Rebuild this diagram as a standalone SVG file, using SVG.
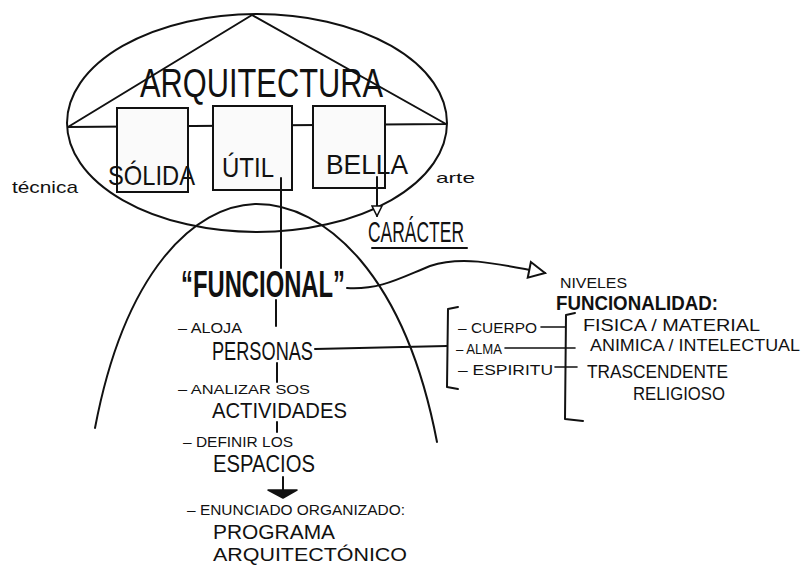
<svg xmlns="http://www.w3.org/2000/svg" width="808" height="566" viewBox="0 0 808 566">
<defs>
<style>
.ln{fill:none;stroke:#111;stroke-width:2;stroke-linecap:round;stroke-linejoin:round}
.th{fill:none;stroke:#111;stroke-width:1.6;stroke-linecap:round}
.t{font-family:"Liberation Sans","DejaVu Sans",sans-serif;fill:#111}
.b{font-weight:bold}
.box{fill:#fafafa;stroke:#111;stroke-width:2}
</style>
<marker id="open" viewBox="0 0 12 12" refX="11" refY="6" markerWidth="12" markerHeight="12" markerUnits="userSpaceOnUse" orient="auto">
<path d="M1,1 L11,6 L1,11 Z" fill="#fff" stroke="#111" stroke-width="1.6"/>
</marker>
<marker id="open2" viewBox="0 0 20 20" refX="18" refY="10" markerWidth="20" markerHeight="20" markerUnits="userSpaceOnUse" orient="auto">
<path d="M2,2 L18,10 L2,18 Z" fill="#fff" stroke="#111" stroke-width="2"/>
</marker>
</defs>
<rect width="808" height="566" fill="#fff"/>

<g id="arquitectura">
<ellipse cx="257" cy="123" rx="190" ry="109" class="ln"/>
<path d="M68,127 L252,15 L446,124 Z" class="ln"/>
<text class="t" x="140" y="97" font-size="40" textLength="243" lengthAdjust="spacingAndGlyphs">ARQUITECTURA</text>
</g>

<g id="solida">
<rect x="117" y="108" width="71" height="84" class="box"/>
<text class="t" x="108" y="185" font-size="28" textLength="87" lengthAdjust="spacingAndGlyphs">SÓLIDA</text>
</g>
<g id="util">
<rect x="213" y="106" width="79" height="84" class="box"/>
<text class="t" x="222" y="177" font-size="27" textLength="52" lengthAdjust="spacingAndGlyphs">ÚTIL</text>
</g>
<g id="bella">
<rect x="313" y="106" width="72" height="82" class="box"/>
<text class="t" x="326" y="174" font-size="28" textLength="82" lengthAdjust="spacingAndGlyphs">BELLA</text>
</g>
<g id="tecnica"><text class="t" x="12" y="193" font-size="17" textLength="66" lengthAdjust="spacingAndGlyphs">técnica</text></g>
<g id="arte"><text class="t" x="436" y="183" font-size="15" textLength="39" lengthAdjust="spacingAndGlyphs">arte</text></g>

<g id="caracter">
<text class="t" x="368" y="242" font-size="29" textLength="96" lengthAdjust="spacingAndGlyphs">CARÁCTER</text>
<line x1="372" y1="248" x2="467" y2="248" class="ln"/>
</g>

<g id="arco">
<path d="M95,428 C125,270 195,206 255,204 C325,203 405,275 437,442" class="ln"/>
</g>

<g id="funcional">
<text class="t b" x="181" y="297" font-size="36" textLength="164" lengthAdjust="spacingAndGlyphs">“FUNCIONAL”</text>
</g>

<g id="personas">
<text class="t" x="178" y="333" font-size="14" textLength="64" lengthAdjust="spacingAndGlyphs">– ALOJA</text>
<text class="t" x="212" y="360" font-size="25" textLength="101" lengthAdjust="spacingAndGlyphs">PERSONAS</text>
</g>
<g id="actividades">
<text class="t" x="178" y="394" font-size="12" textLength="132" lengthAdjust="spacingAndGlyphs">– ANALIZAR SOS</text>
<text class="t" x="212" y="418" font-size="22" textLength="135" lengthAdjust="spacingAndGlyphs">ACTIVIDADES</text>
</g>
<g id="espacios">
<text class="t" x="183" y="447" font-size="14" textLength="110" lengthAdjust="spacingAndGlyphs">– DEFINIR LOS</text>
<text class="t" x="213" y="472" font-size="23" textLength="102" lengthAdjust="spacingAndGlyphs">ESPACIOS</text>
</g>
<g id="programa">
<text class="t" x="187" y="515" font-size="15" textLength="218" lengthAdjust="spacingAndGlyphs">– ENUNCIADO ORGANIZADO:</text>
<text class="t" x="213" y="539" font-size="20" textLength="122" lengthAdjust="spacingAndGlyphs">PROGRAMA</text>
<text class="t" x="213" y="561" font-size="19" textLength="194" lengthAdjust="spacingAndGlyphs">ARQUITECTÓNICO</text>
</g>

<g id="niveles">
<text class="t" x="560" y="288" font-size="14" textLength="67" lengthAdjust="spacingAndGlyphs">NIVELES</text>
<text class="t b" x="556" y="310" font-size="20" textLength="162" lengthAdjust="spacingAndGlyphs">FUNCIONALIDAD:</text>
</g>

<g id="partes">
<path d="M458,307 L448,309 L447,387 L458,389" class="ln"/>
<text class="t" x="458" y="333" font-size="15" textLength="79" lengthAdjust="spacingAndGlyphs">– CUERPO</text>
<text class="t" x="456" y="354" font-size="15" textLength="46" lengthAdjust="spacingAndGlyphs">– ALMA</text>
<text class="t" x="458" y="375" font-size="15" textLength="95" lengthAdjust="spacingAndGlyphs">– ESPIRITU</text>
</g>

<g id="niveles-lista">
<path d="M575,313 L566,315 L565,419 L583,421" class="ln"/>
<text class="t" x="583" y="331" font-size="16" textLength="177" lengthAdjust="spacingAndGlyphs">FISICA / MATERIAL</text>
<text class="t" x="590" y="351" font-size="17" textLength="210" lengthAdjust="spacingAndGlyphs">ANIMICA / INTELECTUAL</text>
<text class="t" x="587" y="378" font-size="18" textLength="141" lengthAdjust="spacingAndGlyphs">TRASCENDENTE</text>
<text class="t" x="633" y="400" font-size="18" textLength="92" lengthAdjust="spacingAndGlyphs">RELIGIOSO</text>
</g>

<g id="connectors">
<line x1="281" y1="178" x2="281" y2="268" class="ln"/>
<line x1="377" y1="177" x2="377" y2="216" class="ln" marker-end="url(#open)"/>
<line x1="276" y1="300" x2="276" y2="326" class="ln"/>
<line x1="277" y1="363" x2="277" y2="382" class="ln"/>
<line x1="277" y1="422" x2="277" y2="432" class="ln"/>
<line x1="283" y1="477" x2="283" y2="491" class="ln"/>
<path d="M268,490 L297,490 L283,498 Z" fill="#111" stroke="#111" stroke-width="1.5" stroke-linejoin="round"/>
<path d="M347,288 C380,290 400,278 430,266 C460,256 490,262 545,273" class="ln" marker-end="url(#open2)"/>
<line x1="315" y1="349" x2="447" y2="346" class="ln"/>
<line x1="541" y1="327" x2="565" y2="327" class="th"/>
<line x1="505" y1="348" x2="575" y2="348" class="th"/>
<line x1="555" y1="367" x2="577" y2="367" class="th"/>
</g>
</svg>
